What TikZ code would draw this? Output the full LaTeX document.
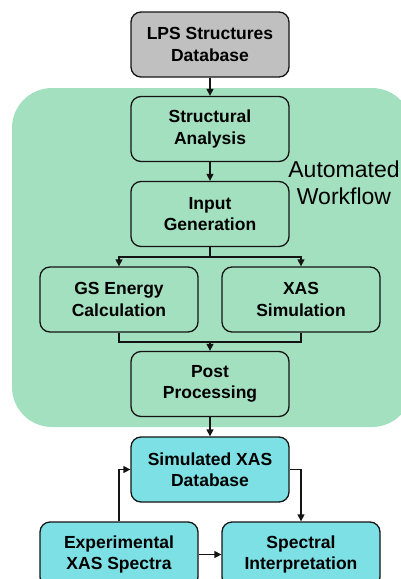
\documentclass[tikz,border=0pt]{standalone}
\usepackage{fontspec}
\setmainfont{Liberation Sans}
\usetikzlibrary{arrows.meta}
\definecolor{wfgreen}{RGB}{163,224,192}
\definecolor{dbcyan}{RGB}{124,224,228}
\definecolor{dbgray}{RGB}{192,192,192}
\definecolor{edge}{RGB}{20,20,20}
\tikzset{
  box/.style={draw=edge, line width=1.3pt, rounded corners=10pt, minimum width=158pt, minimum height=65pt, align=center, inner sep=2pt, font=\bfseries\fontsize{17.5}{21.5}\selectfont},
  conn/.style={draw=edge, line width=1.3pt},
  arr/.style={conn, -{Triangle[length=7pt,width=7pt]}}
}
\begin{document}
\begin{tikzpicture}[x=1pt,y=-1pt]
\useasboundingbox (0,0) rectangle (401,579);
\fill[wfgreen, rounded corners=40pt] (12,88) rectangle (412,427);
\node[font=\fontsize{23}{27}\selectfont, align=center] (wf) at (344,183) {Automated\\Workflow};
\node[box, fill=dbgray] (lps) at (210,44.5) {LPS Structures\\Database};
\node[box] (sa) at (210,129) {Structural\\Analysis};
\node[box] (ig) at (210,214) {Input\\Generation};
\node[box] (gs) at (119,299.5) {GS Energy\\Calculation};
\node[box] (xs) at (301,299.5) {XAS\\Simulation};
\node[box] (pp) at (210,384) {Post\\Processing};
\node[box, fill=dbcyan] (sim) at (210,469.5) {Simulated XAS\\Database};
\node[box, fill=dbcyan] (exp) at (119,554.5) {Experimental\\XAS Spectra};
\node[box, fill=dbcyan] (spec) at (301,554.5) {Spectral\\Interpretation};
\coordinate (split) at (210,257);
\coordinate (merge) at (210,342);
\draw[arr] (lps) -- (sa);
\draw[arr] (sa) -- (ig);
\draw[conn] (ig.south) -- (split);
\draw[arr] (split) -| (gs.north);
\draw[arr] (split) -| (xs.north);
\draw[conn] (gs.south) |- (merge) -| (xs.south);
\draw[arr] (merge) -- (pp.north);
\draw[arr] (pp) -- (sim);
\draw[arr] (exp.north) |- (sim.west);
\draw[arr] (sim.east) -| (spec.north);
\draw[arr] (exp.east) -- (spec.west);
\end{tikzpicture}
\end{document}
